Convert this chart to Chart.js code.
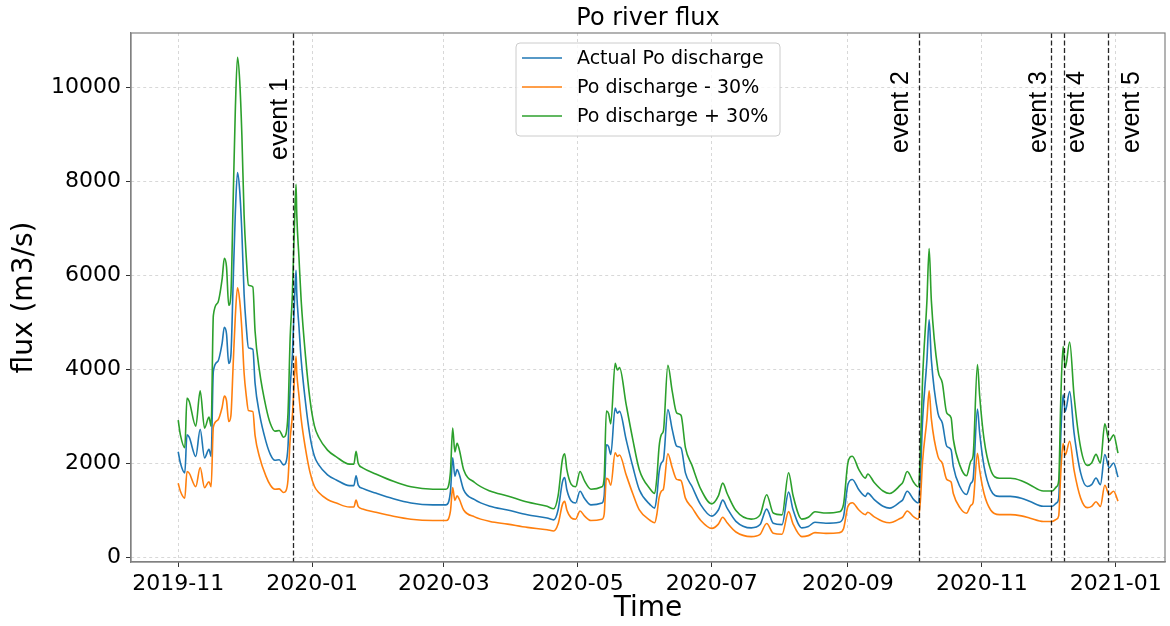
<!DOCTYPE html>
<html>
<head>
<meta charset="utf-8">
<title>Po river flux</title>
<script src="https://cdn.jsdelivr.net/npm/chart.js@4.4.0/dist/chart.umd.min.js"></script>
<style>
  html, body { margin: 0; padding: 0; background: #fff; }
  #wrap { width: 1170px; height: 626px; }
</style>
</head>
<body>
<div id="wrap"><canvas id="fluxChart" width="1170" height="626"></canvas></div>
<script>
// daily-ish samples of the Po discharge (m3/s)
const dates = [
  '2019-11-01','2019-11-02','2019-11-04','2019-11-05','2019-11-06','2019-11-09','2019-11-11','2019-11-13',
  '2019-11-15','2019-11-16','2019-11-17','2019-11-19','2019-11-21','2019-11-22','2019-11-23','2019-11-24',
  '2019-11-25','2019-11-26','2019-11-27','2019-11-28','2019-11-29','2019-11-30','2019-12-01','2019-12-02',
  '2019-12-03','2019-12-05','2019-12-06','2019-12-08','2019-12-11','2019-12-13','2019-12-15','2019-12-17',
  '2019-12-19','2019-12-20','2019-12-21','2019-12-22','2019-12-23','2019-12-24','2019-12-24T16:00','2019-12-25',
  '2019-12-26','2019-12-27','2019-12-29','2019-12-31','2020-01-02','2020-01-04','2020-01-08','2020-01-12',
  '2020-01-18','2020-01-20','2020-01-21','2020-01-22','2020-01-24','2020-01-30','2020-02-07','2020-02-15',
  '2020-02-25','2020-03-02','2020-03-04','2020-03-05','2020-03-06','2020-03-07','2020-03-08','2020-03-10',
  '2020-03-15','2020-03-22','2020-03-30','2020-04-08','2020-04-17','2020-04-20','2020-04-22','2020-04-24',
  '2020-04-25','2020-04-26','2020-04-28','2020-04-30','2020-05-02','2020-05-04','2020-05-07','2020-05-12',
  '2020-05-13','2020-05-14','2020-05-15','2020-05-16','2020-05-18','2020-05-19','2020-05-20','2020-05-23',
  '2020-05-26','2020-05-29','2020-06-03','2020-06-05','2020-06-06','2020-06-07','2020-06-08','2020-06-09',
  '2020-06-11','2020-06-13','2020-06-15','2020-06-17','2020-06-19','2020-06-22','2020-06-26','2020-07-01',
  '2020-07-04','2020-07-06','2020-07-08','2020-07-12','2020-07-19','2020-07-23','2020-07-26','2020-07-29',
  '2020-08-02','2020-08-05','2020-08-07','2020-08-11','2020-08-14','2020-08-17','2020-08-22','2020-08-28',
  '2020-08-30','2020-09-01','2020-09-03','2020-09-06','2020-09-09','2020-09-10','2020-09-13','2020-09-17',
  '2020-09-20','2020-09-25','2020-09-26','2020-09-28','2020-10-01','2020-10-03','2020-10-04','2020-10-05',
  '2020-10-07','2020-10-08','2020-10-09','2020-10-12','2020-10-14','2020-10-16','2020-10-18','2020-10-19',
  '2020-10-22','2020-10-25','2020-10-27','2020-10-28','2020-10-30','2020-10-31','2020-11-02','2020-11-05',
  '2020-11-09','2020-11-14','2020-11-19','2020-11-23','2020-11-29','2020-12-03','2020-12-05','2020-12-06',
  '2020-12-07','2020-12-08','2020-12-09','2020-12-11','2020-12-13','2020-12-16','2020-12-19','2020-12-21',
  '2020-12-23','2020-12-25','2020-12-27','2020-12-29','2020-12-31','2021-01-02'
];
const actualFlux = [
  2240, 2000, 1790, 2600, 2550, 2140, 2720, 2110,
  2290, 2140, 3950, 4160, 4550, 4890, 4750, 4120,
  4300, 5800, 7300, 8180, 7800, 6900, 5600, 4900,
  4450, 4420, 3700, 3050, 2450, 2180, 2060, 2070,
  1960, 2000, 2350, 3600, 4300, 5500, 6100, 5600,
  4900, 4200, 3280, 2580, 2150, 1960, 1750, 1640,
  1520, 1520, 1730, 1530, 1460, 1360, 1240, 1150,
  1110, 1110, 1400, 2110, 1720, 1860, 1760, 1430,
  1220, 1080, 1000, 900, 830, 790, 1000, 1600,
  1690, 1430, 1190, 1150, 1400, 1250, 1110, 1150,
  1300, 2390, 2350, 2180, 3170, 3060, 3100, 2500,
  1930, 1430, 1110, 1040, 1300, 1800, 2000, 2070,
  3140, 2710, 2360, 2320, 1790, 1500, 1110, 870,
  1000, 1210, 1040, 760, 620, 690, 1020, 720,
  690, 1380, 1010, 620, 650, 740, 720, 740,
  860, 1540, 1650, 1430, 1290, 1360, 1220, 1080,
  1040, 1180, 1220, 1400, 1220, 1150, 1700, 2900,
  4200, 5050, 4200, 3060, 2850, 2360, 2280, 1930,
  1500, 1330, 1570, 1650, 3150, 2640, 1930, 1430,
  1290, 1290, 1250, 1180, 1080, 1080, 1150, 1250,
  2640, 3450, 3100, 3520, 2640, 1790, 1500, 1540,
  1680, 1540, 2180, 1900, 2000, 1700
];
// the two scenarios are the measured discharge scaled by -30% / +30%
const lowFlux = actualFlux.map(v => Math.round(v * 0.7));
const highFlux = actualFlux.map(v => Math.round(v * 1.3));

const seriesLabels = ['Actual Po discharge', 'Po discharge - 30%', 'Po discharge + 30%'];
const seriesColors = ['#1f77b4', '#ff7f0e', '#2ca02c'];

const eventNames = ['event 1', 'event 2', 'event 3', 'event 4', 'event 5'];
const eventDates = ['2019-12-23T05:00', '2020-10-03T12:00', '2020-12-02T14:00', '2020-12-08T12:00', '2020-12-28T10:00'];

const xTickDates = ['2019-11-01', '2020-01-01', '2020-03-01', '2020-05-01', '2020-07-01', '2020-09-01', '2020-11-01', '2021-01-01'];
const xTickLabels = ['2019-11', '2020-01', '2020-03', '2020-05', '2020-07', '2020-09', '2020-11', '2021-01'];
const yTicks = [0, 2000, 4000, 6000, 8000, 10000];

const toTime = s => Date.parse(s.length > 10 ? s + 'Z' : s);
const times = dates.map(toTime);
const pts = vals => times.map((t, i) => ({ x: t, y: vals[i] }));

const DAY = 86400000;
const xMin = toTime('2019-10-10T12:00');
const xMax = toTime('2021-01-23T10:00');

// dashed event markers + their rotated labels
const eventLines = {
  id: 'eventLines',
  afterDatasetsDraw(chart) {
    const { ctx, chartArea, scales: { x } } = chart;
    const labelShift = [-7, -12, -6, 19, 30];
    const labelBottom = [160, 153, 153, 153, 153];
    ctx.save();
    eventDates.forEach((d, i) => {
      const px = Math.round(x.getPixelForValue(toTime(d))) + 0.5;
      ctx.strokeStyle = 'rgba(0,0,0,0.85)';
      ctx.lineWidth = 1.3;
      ctx.setLineDash([5, 2.5]);
      ctx.beginPath();
      ctx.moveTo(px, chartArea.top);
      ctx.lineTo(px, chartArea.bottom);
      ctx.stroke();

      ctx.save();
      ctx.translate(px + labelShift[i], labelBottom[i]);
      ctx.rotate(-Math.PI / 2);
      ctx.fillStyle = '#000';
      ctx.font = '25px "Liberation Sans", Arial, sans-serif';
      ctx.textAlign = 'left';
      ctx.textBaseline = 'alphabetic';
      ctx.fillText(eventNames[i], 0, 0);
      ctx.restore();
    });
    ctx.restore();
  }
};

// frame, title and legend box
const decorations = {
  id: 'decorations',
  afterDraw(chart) {
    const { ctx, chartArea: a } = chart;
    ctx.save();
    ctx.strokeStyle = '#808080';
    ctx.lineWidth = 1.2;
    ctx.setLineDash([]);
    ctx.strokeRect(a.left, a.top, a.right - a.left, a.bottom - a.top);

    ctx.fillStyle = '#000';
    ctx.font = '24px "DejaVu Sans"';
    ctx.textAlign = 'center';
    ctx.textBaseline = 'middle';
    ctx.fillText('Po river flux', (a.left + a.right) / 2, 19);

    // legend
    const bx = 516, by = 43, bw = 264, bh = 93, r = 4;
    ctx.beginPath();
    ctx.moveTo(bx + r, by);
    ctx.arcTo(bx + bw, by, bx + bw, by + bh, r);
    ctx.arcTo(bx + bw, by + bh, bx, by + bh, r);
    ctx.arcTo(bx, by + bh, bx, by, r);
    ctx.arcTo(bx, by, bx + bw, by, r);
    ctx.closePath();
    ctx.fillStyle = 'rgba(255,255,255,0.8)';
    ctx.fill();
    ctx.strokeStyle = '#cccccc';
    ctx.lineWidth = 1;
    ctx.stroke();

    ctx.font = '19px "DejaVu Sans"';
    ctx.textAlign = 'left';
    seriesLabels.forEach((lab, i) => {
      const y = 58 + i * 29;
      ctx.strokeStyle = seriesColors[i];
      ctx.lineWidth = 1.5;
      ctx.beginPath();
      ctx.moveTo(522, y);
      ctx.lineTo(562, y);
      ctx.stroke();
      ctx.fillStyle = '#000';
      ctx.fillText(lab, 577, y + 1);
    });
    ctx.restore();
  }
};

const gridStyle = {
  color: '#cfcfcf',
  lineWidth: 0.8,
  tickColor: '#333',
  tickLength: 5,
  tickWidth: 1,
  tickBorderDash: []
};

new Chart(document.getElementById('fluxChart'), {
  type: 'line',
  data: {
    datasets: [
      { label: seriesLabels[0], data: pts(actualFlux), borderColor: seriesColors[0], order: 3 },
      { label: seriesLabels[1], data: pts(lowFlux), borderColor: seriesColors[1], order: 2 },
      { label: seriesLabels[2], data: pts(highFlux), borderColor: seriesColors[2], order: 1 }
    ]
  },
  options: {
    responsive: false,
    animation: false,
    devicePixelRatio: 1,
    layout: { padding: { top: 33, right: 5, left: 0, bottom: 0 } },
    elements: {
      point: { radius: 0 },
      line: { borderWidth: 1.6, tension: 0.3, cubicInterpolationMode: 'monotone', fill: false }
    },
    plugins: {
      legend: { display: false },
      tooltip: { enabled: false }
    },
    scales: {
      x: {
        type: 'linear',
        min: xMin,
        max: xMax,
        afterBuildTicks: s => { s.ticks = xTickDates.map(d => ({ value: toTime(d) })); },
        afterFit: s => { s.height = 64; },
        ticks: {
          autoSkip: false,
          maxRotation: 0,
          padding: 4,
          color: '#000',
          font: { family: 'DejaVu Sans', size: 22 },
          callback: (v, i) => xTickLabels[i]
        },
        grid: gridStyle,
        border: { color: '#808080', width: 1.2, dash: [3, 3] },
        title: {
          display: true,
          text: 'Time',
          color: '#000',
          font: { family: 'DejaVu Sans', size: 28, lineHeight: 1.2 },
          padding: { top: 0, bottom: 0 }
        }
      },
      y: {
        min: -106,
        max: 11150,
        afterBuildTicks: s => { s.ticks = yTicks.map(v => ({ value: v })); },
        afterFit: s => { s.width = 131; },
        ticks: {
          padding: 5,
          color: '#000',
          font: { family: 'DejaVu Sans', size: 22 },
          callback: v => String(v)
        },
        grid: gridStyle,
        border: { color: '#808080', width: 1.2, dash: [3, 3] },
        title: {
          display: true,
          text: 'flux (m3/s)',
          color: '#000',
          font: { family: 'DejaVu Sans', size: 28, lineHeight: 1.2 },
          padding: { top: 8, bottom: 0 }
        }
      }
    }
  },
  plugins: [eventLines, decorations]
});
</script>
</body>
</html>
